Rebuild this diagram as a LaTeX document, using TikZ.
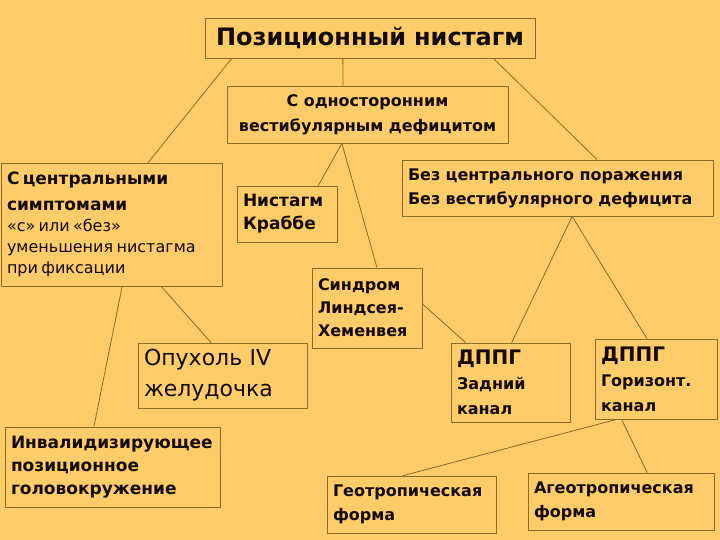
\documentclass[tikz,border=0pt]{standalone}
\usepackage{fontspec}
\setmainfont{DejaVu Sans}
\usetikzlibrary{calc}
\definecolor{bg}{RGB}{254,204,104}
\definecolor{edge}{RGB}{140,108,36}
\definecolor{ink}{RGB}{20,10,10}
\tikzset{
  box/.style={draw=edge, line width=0.8pt, inner xsep=6pt, inner ysep=0pt, align=left, text=ink, anchor=center},
  conn/.style={draw=edge, line width=0.8pt},
}
\newcommand\fs[2]{\fontsize{#1}{#2}\selectfont}
\begin{document}
\begin{tikzpicture}[x=1pt,y=-1pt]
\fill[bg] (0,0) rectangle (720,540);
\useasboundingbox (0,0) rectangle (720,540);

\node[box, minimum width=330pt, minimum height=40pt, text width=318pt, align=center, font=\bfseries\fs{24}{28}] (title) at (370,38) {Позиционный нистагм};

\node[box, minimum width=281pt, minimum height=57pt, text width=275pt, inner xsep=3pt, align=center, font=\bfseries\fs{16}{25}] (b2) at (367.5,114.5) {С односторонним\\вестибулярным дефицитом};

\node[box, minimum width=221pt, minimum height=123pt, text width=209pt] (b3) at (111.5,224.5)
 {{\bfseries\fs{17}{26}С центральными\par симптомами\par}%
  {\fs{16}{21}«с» или «без»\par уменьшения нистагма\par при фиксации\par}};

\node[box, minimum width=100pt, minimum height=56pt, text width=88pt, font=\bfseries\fs{17}{23}] (krabbe) at (287,214) {Нистагм\\Краббе};

\node[box, minimum width=311pt, minimum height=56pt, text width=299pt, font=\bfseries\fs{16}{24}] (bez) at (557.5,188) {Без центрального поражения\\Без вестибулярного дефицита};

\node[box, minimum width=110pt, minimum height=80pt, text width=98pt, font=\bfseries\fs{16}{23}] (sindrom) at (367,308) {Синдром\\Линдсея-\\Хеменвея};

\node[box, minimum width=169pt, minimum height=65pt, text width=157pt, font=\fs{22}{31}] (opukh) at (222.5,375.5) {Опухоль IV\\желудочка};

\node[box, minimum width=119pt, minimum height=79pt, text width=107pt] (dppg1) at (510.5,382.5)
 {{\bfseries\fs{20}{26}ДППГ\par}{\bfseries\fs{16}{25}Задний\par канал\par}};

\node[box, minimum width=122pt, minimum height=80pt, text width=110pt] (dppg2) at (656,379)
 {{\bfseries\fs{20}{26}ДППГ\par}{\bfseries\fs{16}{25}Горизонт.\par канал\par}};

\node[box, minimum width=215pt, minimum height=80pt, text width=203pt, font=\bfseries\fs{17}{23}] (inval) at (112.5,467) {Инвалидизирующее\\позиционное\\головокружение};

\node[box, minimum width=169pt, minimum height=57pt, text width=157pt, font=\bfseries\fs{16}{24}] (geo) at (411.5,504.5) {Геотропическая\\форма};

\node[box, minimum width=186pt, minimum height=57pt, text width=174pt, font=\bfseries\fs{16}{24}] (ageo) at (621,501.5) {Агеотропическая\\форма};

% connectors
\draw[conn] ($(title.south west)!0.082!(title.south east)$) -- ($(b3.north west)!0.665!(b3.north east)$);
\draw[conn] ($(title.south west)!0.418!(title.south east)$) -- ($(b2.north west)!0.413!(b2.north east)$);
\draw[conn] ($(title.south west)!0.873!(title.south east)$) -- ($(bez.north west)!0.627!(bez.north east)$);
\draw[conn] ($(b2.south west)!0.409!(b2.south east)$) -- ($(krabbe.north west)!0.81!(krabbe.north east)$);
\draw[conn] ($(b2.south west)!0.409!(b2.south east)$) -- ($(sindrom.north west)!0.59!(sindrom.north east)$);
\draw[conn] ($(bez.south west)!0.547!(bez.south east)$) -- ($(dppg1.north west)!0.51!(dppg1.north east)$);
\draw[conn] ($(bez.south west)!0.547!(bez.south east)$) -- ($(dppg2.north west)!0.426!(dppg2.north east)$);
\draw[conn] ($(b3.south west)!0.548!(b3.south east)$) -- ($(inval.north west)!0.414!(inval.north east)$);
\draw[conn] ($(b3.south west)!0.724!(b3.south east)$) -- ($(opukh.north west)!0.432!(opukh.north east)$);
\draw[conn] ($(sindrom.north east)!0.45!(sindrom.south east)$) -- ($(dppg1.north west)!0.126!(dppg1.north east)$);
\draw[conn] ($(dppg2.south west)!0.18!(dppg2.south east)$) -- ($(geo.north west)!0.45!(geo.north east)$);
\draw[conn] ($(dppg2.south west)!0.22!(dppg2.south east)$) -- ($(ageo.north west)!0.64!(ageo.north east)$);
\end{tikzpicture}
\end{document}
